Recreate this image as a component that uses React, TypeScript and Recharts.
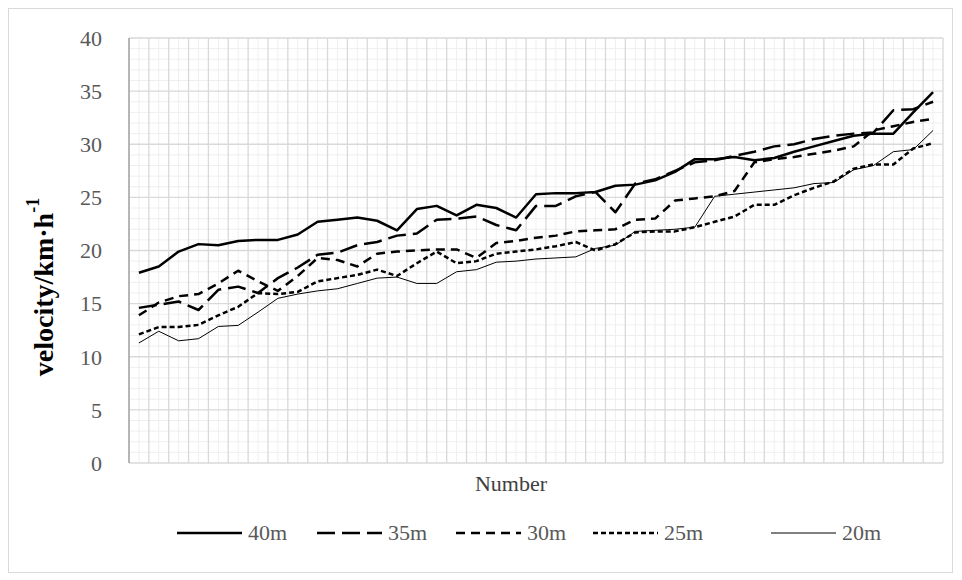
import React from "react";
import { LineChart, Line, XAxis, YAxis, CartesianGrid, Legend } from "recharts";

// subject number (category axis)
const subjects = [
  1, 2, 3, 4, 5, 6, 7, 8, 9, 10, 11, 12, 13, 14, 15, 16, 17, 18, 19, 20, 21,
  22, 23, 24, 25, 26, 27, 28, 29, 30, 31, 32, 33, 34, 35, 36, 37, 38, 39, 40, 41,
];

const v40 = [
  17.9, 18.5, 19.9, 20.6, 20.5, 20.9, 21.0, 21.0, 21.5, 22.7, 22.9, 23.1, 22.8,
  21.9, 23.9, 24.2, 23.3, 24.3, 24.0, 23.1, 25.3, 25.4, 25.4, 25.5, 26.1, 26.2,
  26.6, 27.4, 28.6, 28.6, 28.8, 28.5, 28.7, 29.3, 29.8, 30.3, 30.8, 31.0, 31.0,
  33.0, 34.9,
];
const v35 = [
  14.6, 14.9, 15.2, 14.4, 16.3, 16.6, 16.0, 17.4, 18.4, 19.6, 19.8, 20.5, 20.8,
  21.4, 21.6, 22.9, 23.0, 23.2, 22.4, 21.9, 24.2, 24.2, 25.1, 25.5, 23.6, 26.3,
  26.7, 27.5, 28.3, 28.5, 28.9, 29.3, 29.8, 30.0, 30.5, 30.8, 31.0, 31.1, 33.2,
  33.3, 34.0,
];
const v30 = [
  13.9, 15.1, 15.7, 15.9, 16.9, 18.1, 17.1, 16.2, 17.6, 19.3, 19.1, 18.5, 19.7,
  19.9, 20.0, 20.1, 20.1, 19.3, 20.7, 20.9, 21.2, 21.4, 21.8, 21.9, 22.0, 22.9,
  23.0, 24.7, 24.9, 25.1, 25.6, 28.3, 28.6, 28.8, 29.1, 29.4, 29.8, 31.3, 31.7,
  32.1, 32.4,
];
const v25 = [
  12.1, 12.8, 12.8, 13.0, 13.9, 14.7, 16.0, 15.9, 16.1, 17.1, 17.4, 17.7, 18.2,
  17.6, 18.8, 19.9, 18.8, 19.0, 19.7, 19.9, 20.1, 20.4, 20.8, 20.0, 20.6, 21.7,
  21.8, 21.8, 22.2, 22.7, 23.2, 24.3, 24.3, 25.2, 25.9, 26.5, 27.7, 28.1, 28.1,
  29.6, 30.1,
];
const v20 = [
  11.3, 12.4, 11.5, 11.7, 12.85, 12.95, 14.2, 15.5, 15.9, 16.2, 16.4, 16.9, 17.4,
  17.5, 16.9, 16.9, 18.0, 18.2, 18.9, 19.0, 19.2, 19.3, 19.4, 20.2, 20.5, 21.8,
  21.9, 22.0, 22.2, 25.1, 25.3, 25.5, 25.7, 25.9, 26.3, 26.4, 27.6, 28.0, 29.3,
  29.5, 31.3,
];

const yTicks = [0, 5, 10, 15, 20, 25, 30, 35, 40];
const yMinor = [
  1, 2, 3, 4, 6, 7, 8, 9, 11, 12, 13, 14, 16, 17, 18, 19, 21, 22, 23, 24, 26,
  27, 28, 29, 31, 32, 33, 34, 36, 37, 38, 39,
];

const series = [
  { key: "m40", name: "40m", width: 2.5, dash: undefined, lx: 168 },
  { key: "m35", name: "35m", width: 2.5, dash: "18 7", lx: 308 },
  { key: "m30", name: "30m", width: 2.5, dash: "9 6", lx: 447 },
  { key: "m25", name: "25m", width: 2.5, dash: "5 3", lx: 584 },
  { key: "m20", name: "20m", width: 1, dash: undefined, lx: 762 },
];

const data = subjects.map((n, i) => ({
  n,
  m40: v40[i],
  m35: v35[i],
  m30: v30[i],
  m25: v25[i],
  m20: v20[i],
}));

const FONT = '"Liberation Serif", "Times New Roman", serif';

// map a value to pixels through the axis scale when available
const yPix = (p: any, v: number) => {
  const s = p.yAxis && p.yAxis.scale;
  if (typeof s === "function") return s(v);
  if (s && typeof s.map === "function") return s.map(v);
  return p.offset.top + p.offset.height * (1 - v / 40);
};
const xPix = (p: any, v: number) => {
  const s = p.xAxis && p.xAxis.scale;
  if (typeof s === "function") return s(v);
  if (s && typeof s.map === "function") return s.map(v);
  return p.offset.left + (p.offset.width * (v - 0.5)) / subjects.length;
};

const renderLegend = () => (
  <div style={{ position: "relative", width: 943, height: 24, fontFamily: FONT }}>
    {series.map((s) => (
      <div
        key={s.key}
        style={{
          position: "absolute",
          left: s.lx,
          top: 0,
          display: "flex",
          alignItems: "center",
          height: 24,
          whiteSpace: "nowrap",
        }}
      >
        <svg width={65} height={12}>
          <line
            x1={0}
            y1={6}
            x2={65}
            y2={6}
            stroke="#000"
            strokeWidth={s.width}
            strokeDasharray={s.dash}
          />
        </svg>
        <span style={{ marginLeft: 6, fontSize: 22, color: "#595959" }}>
          {s.name}
        </span>
      </div>
    ))}
  </div>
);

const YTitle = () => (
  <text
    x={34}
    y={278}
    transform="rotate(-90, 34, 278)"
    textAnchor="middle"
    dominantBaseline="central"
    fontFamily={FONT}
    fontWeight="bold"
    fontSize={28}
    fill="#000"
  >
    <tspan>velocity/km·h</tspan>
    <tspan dy={-10} fontSize={18}>
      -1
    </tspan>
  </text>
);

const XTitle = () => (
  <text
    x={502}
    y={474}
    textAnchor="middle"
    dominantBaseline="central"
    fontFamily={FONT}
    fontSize={22}
    fill="#404040"
  >
    Number
  </text>
);

export default function App() {
  return (
    <div
      style={{
        position: "relative",
        width: 943,
        height: 563,
        border: "1px solid #d9d9d9",
        background: "#fff",
      }}
    >
      <LineChart
        width={943}
        height={563}
        data={data}
        margin={{ top: 29, right: 9, left: 0, bottom: 79 }}
      >
        <CartesianGrid
          stroke="#efefef"
          strokeWidth={1}
          horizontalCoordinatesGenerator={(p: any) => yMinor.map((v) => yPix(p, v))}
          verticalCoordinatesGenerator={(p: any) => subjects.map((n) => xPix(p, n))}
        />
        <CartesianGrid
          stroke="#d9d9d9"
          strokeWidth={1.3}
          horizontalCoordinatesGenerator={(p: any) => yTicks.map((v) => yPix(p, v))}
          verticalCoordinatesGenerator={(p: any) =>
            [0, ...subjects].map((n) => xPix(p, n + 0.5))
          }
        />
        <XAxis
          dataKey="n"
          type="number"
          domain={[0.5, 41.5]}
          ticks={[]}
          tick={false}
          axisLine={false}
          tickLine={false}
          height={30}
          label={{ content: () => <XTitle /> }}
        />
        <YAxis
          domain={[0, 40]}
          ticks={yTicks}
          width={120}
          tickSize={0}
          tickMargin={27}
          tickLine={false}
          axisLine={{ stroke: "#868686", strokeWidth: 1 }}
          tick={{ fontSize: 22, fill: "#595959", fontFamily: FONT }}
          label={{ content: () => <YTitle /> }}
        />
        {series.map((s) => (
          <Line
            key={s.key}
            type="linear"
            dataKey={s.key}
            name={s.name}
            stroke="#000"
            strokeWidth={s.width}
            strokeDasharray={s.dash}
            strokeLinejoin="round"
            dot={false}
            activeDot={false}
            isAnimationActive={false}
          />
        ))}
        <Legend
          layout="vertical"
          align="center"
          verticalAlign="middle"
          content={renderLegend}
          wrapperStyle={{ position: "absolute", left: 0, top: 512, width: 943 }}
        />
      </LineChart>
    </div>
  );
}
